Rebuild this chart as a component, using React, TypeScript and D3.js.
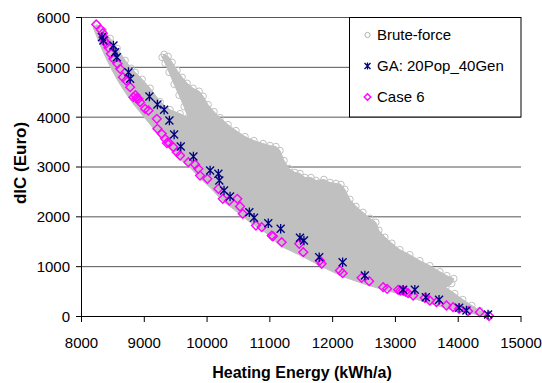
import React from "react";
import * as d3 from "d3";

const xTicks = [8000, 9000, 10000, 11000, 12000, 13000, 14000, 15000];
const yTicks = [0, 1000, 2000, 3000, 4000, 5000, 6000];
const seriesNames = ["Brute-force", "GA: 20Pop_40Gen", "Case 6"];
const xTitle = "Heating Energy (kWh/a)";
const yTitle = "dIC (Euro)";

// Brute-force cloud: outline of the dense region
const bruteFrontier: [number, number][] = [
  [8186, 5800], [8250, 5600], [8313, 5400], [8393, 5180], [8488, 4940], [8584, 4720],
  [8695, 4500], [8822, 4270], [8966, 4050], [9109, 3830], [9252, 3590], [9411, 3350],
  [9570, 3150], [9729, 2990], [9888, 2770], [10048, 2590], [10238, 2330], [10445, 2130],
  [10684, 1890], [10922, 1690], [11193, 1400], [11527, 1200], [11829, 1000], [12163, 800],
  [12577, 620], [13038, 460], [13547, 260], [14009, 100], [14500, 0],
];
const bruteLowerLobeTop: [number, number][] = [
  [8250, 5860], [8345, 5740], [8457, 5580], [8568, 5380], [8695, 5140], [8791, 4980],
  [8854, 4900], [8966, 4760], [9093, 4580], [9252, 4310], [9411, 4150], [9570, 4070],
  [9698, 3990],
];
const bruteUpperLobeLeft: [number, number][] = [
  [9284, 5200], [9332, 5080], [9395, 4900], [9475, 4660], [9554, 4440], [9634, 4210],
];
const bruteUpperLobeEdge: [number, number][] = [
  [9316, 5260], [9379, 5220], [9443, 5100], [9522, 4940], [9602, 4800], [9682, 4680],
  [9777, 4580], [9873, 4520], [9936, 4420], [10016, 4250], [10111, 4110], [10207, 3990],
  [10334, 3850], [10461, 3730], [10604, 3610], [10747, 3530], [10891, 3470], [11002, 3430],
  [11097, 3410], [11161, 3330], [11225, 3130], [11304, 2970], [11400, 2890], [11479, 2870],
  [11559, 2790], [11654, 2790], [11734, 2730], [11861, 2750], [11957, 2690], [12052, 2670],
  [12132, 2650], [12195, 2550], [12275, 2350], [12370, 2210], [12482, 2090], [12593, 1970],
  [12688, 1890], [12736, 1730], [12832, 1590], [12943, 1470], [13070, 1340], [13229, 1240],
  [13388, 1120], [13547, 1020], [13707, 900], [13818, 820], [13929, 760], [13897, 660],
  [13802, 580], [13945, 460], [14072, 340], [14216, 220], [14343, 120], [14486, 20],
];

const gaPoints: [number, number][] = [
  [8325, 5606], [8350, 5539], [8509, 5438], [8536, 5304], [8563, 5204], [8748, 4903],
  [8775, 4770], [9082, 4415], [9209, 4254], [9316, 4148], [9400, 3933], [9475, 3652],
  [9581, 3411], [9782, 3211], [10048, 2930], [10180, 2864], [10195, 2729], [10270, 2528],
  [10366, 2408], [10673, 2093], [10748, 1981], [10975, 1872], [11172, 1760], [11479, 1579],
  [11543, 1525], [11786, 1190], [12159, 1090], [12513, 823], [13123, 536], [13309, 536],
  [13484, 387], [13695, 335], [14014, 175], [14131, 120], [14475, 40],
];

const case6Points: [number, number][] = [
  [8234, 5860], [8309, 5754], [8340, 5686], [8350, 5606], [8361, 5539], [8393, 5478],
  [8430, 5393], [8468, 5272], [8509, 5172], [8573, 5071], [8616, 4971], [8659, 4803],
  [8711, 4736], [8775, 4602], [8827, 4401], [8860, 4440], [8880, 4380], [8907, 4369],
  [8934, 4301], [9013, 4168], [9066, 4134], [9200, 3967], [9209, 3767], [9279, 3666],
  [9332, 3566], [9360, 3480], [9384, 3498], [9464, 3398], [9518, 3297], [9570, 3231],
  [9702, 3097], [9809, 3050], [9861, 2964], [9888, 2829], [10005, 2763], [10180, 2563],
  [10250, 2362], [10355, 2328], [10482, 2362], [10525, 2207], [10568, 2061], [10779, 1826],
  [10870, 1792], [11029, 1625], [11050, 1610], [11188, 1491], [11468, 1459], [11532, 1290],
  [11798, 1124], [11825, 1058], [12116, 923], [12159, 869], [12461, 777], [12582, 708],
  [12805, 588], [12868, 556], [13043, 536], [13080, 520], [13123, 522], [13160, 500],
  [13202, 468], [13282, 421], [13468, 375], [13548, 321], [13654, 287], [13813, 221],
  [13918, 187], [14014, 155], [14157, 106], [14343, 86], [14491, 10],
];

const W = 542;
const H = 383;
const FONT = "'Liberation Sans', Arial, Helvetica, sans-serif";

const x = d3.scaleLinear().domain([8000, 15000]).range([81.5, 521]);
const y = d3.scaleLinear().domain([0, 6000]).range([316.5, 17.5]);

const starPath = "M-4,-4L4,4M-4,4L4,-4M0,-4.8L0,4.8";
const diamondPath = "M0,-4.4L4.4,0L0,4.4L-4.4,0Z";

export default function App() {
  const poly: [number, number][] = [
    ...bruteFrontier,
    ...[...bruteUpperLobeEdge].reverse(),
    ...bruteUpperLobeLeft,
    ...[...bruteLowerLobeTop].reverse(),
  ];
  const line = d3
    .line<[number, number]>()
    .x((d) => x(d[0]))
    .y((d) => y(d[1]))
    .curve(d3.curveLinearClosed);
  const edgePts = [...bruteUpperLobeEdge, ...bruteUpperLobeLeft, ...bruteLowerLobeTop];

  const legendX = 349.5;
  const legendY = 17.5;
  const legendRows = [35, 66, 97];

  return (
    <svg
      width={W}
      height={H}
      style={{ position: "absolute", left: 0, top: 0, display: "block", background: "#fff" }}
      fontFamily={FONT}
    >
      <rect x={0} y={0} width={W} height={H} fill="#fff" />
      {/* gridlines */}
      {yTicks.filter((t) => t > 0).map((t) => (
        <line key={t} x1={x(8000)} x2={x(15000)} y1={y(t)} y2={y(t)} stroke="#555" strokeWidth={1} />
      ))}
      {/* brute-force cloud */}
      <path d={line(poly) || ""} fill="#c0c0c0" stroke="#c0c0c0" strokeWidth={1} />
      {edgePts.map((d, i) => (
        <circle key={i} cx={x(d[0])} cy={y(d[1])} r={3.3} fill="none" stroke="#c0c0c0" strokeWidth={1} />
      ))}
      {/* Case 6 */}
      {case6Points.map((d, i) => (
        <path key={i} d={diamondPath} transform={`translate(${x(d[0])},${y(d[1])})`} fill="none" stroke="#ff00ff" strokeWidth={1.4} />
      ))}
      {/* GA */}
      {gaPoints.map((d, i) => (
        <path key={i} d={starPath} transform={`translate(${x(d[0])},${y(d[1])})`} fill="none" stroke="#000080" strokeWidth={1.3} />
      ))}
      {/* axes */}
      <line x1={81.5} x2={81.5} y1={17} y2={317} stroke="#000" />
      <line x1={81} x2={521.5} y1={316.5} y2={316.5} stroke="#000" />
      {yTicks.map((t) => (
        <g key={t}>
          <line x1={76} x2={81.5} y1={y(t)} y2={y(t)} stroke="#000" />
          <text x={70} y={y(t)} dy="0.36em" textAnchor="end" fontSize={15} fill="#000">
            {t}
          </text>
        </g>
      ))}
      {xTicks.map((t) => (
        <g key={t}>
          <line x1={x(t)} x2={x(t)} y1={316.5} y2={322} stroke="#000" />
          <text x={x(t)} y={348} textAnchor="middle" fontSize={15} fill="#000">
            {t}
          </text>
        </g>
      ))}
      <text x={302} y={378} textAnchor="middle" fontSize={16} fontWeight="bold" fill="#000">
        {xTitle}
      </text>
      <text transform="translate(26,163) rotate(-90)" textAnchor="middle" fontSize={17} fontWeight="bold" fill="#000">
        {yTitle}
      </text>
      {/* legend */}
      <rect x={legendX} y={legendY} width={171.5} height={99.5} fill="#fff" stroke="#000" strokeWidth={1} />
      <circle cx={367.5} cy={legendRows[0]} r={2.6} fill="none" stroke="#b0b0b0" strokeWidth={1} />
      <path d="M-3,-3L3,3M-3,3L3,-3M0,-3.6L0,3.6" transform={`translate(367.5,${legendRows[1]})`} stroke="#000080" strokeWidth={1.3} fill="none" />
      <path d="M0,-3.3L3.3,0L0,3.3L-3.3,0Z" transform={`translate(367.5,${legendRows[2]})`} stroke="#ff00ff" strokeWidth={1.4} fill="none" />
      {seriesNames.map((n, i) => (
        <text key={n} x={377} y={legendRows[i]} dy="0.36em" fontSize={15} fill="#000">
          {n}
        </text>
      ))}
    </svg>
  );
}
